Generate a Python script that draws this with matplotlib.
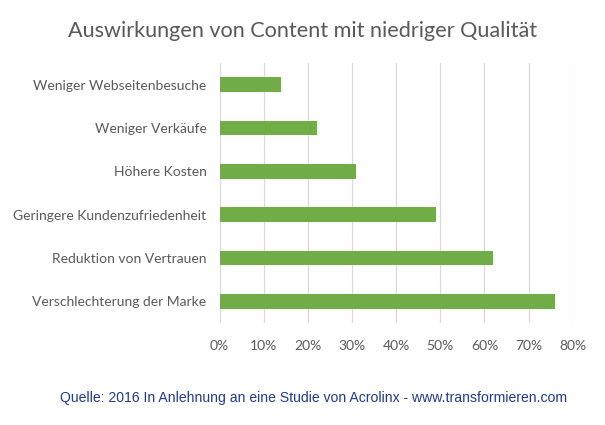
import matplotlib
matplotlib.use("Agg")
import matplotlib.pyplot as plt
from matplotlib.ticker import PercentFormatter

categories = [
    "Verschlechterung der Marke",
    "Reduktion von Vertrauen",
    "Geringere Kundenzufriedenheit",
    "Höhere Kosten",
    "Weniger Verkäufe",
    "Weniger Webseitenbesuche",
]
values = [76, 62, 49, 31, 22, 14]
xticks = [0, 10, 20, 30, 40, 50, 60, 70, 80]

TEXT = "#595959"
GREEN = "#70AD47"

fig = plt.figure(figsize=(6.05, 4.25), dpi=100, facecolor="white")
ax = fig.add_axes([0.3631, 0.24, 0.5835, 0.6118])

ax.barh(range(len(categories)), values, height=0.345, color=GREEN, zorder=3)

ax.set_xlim(0, 80)
ax.set_ylim(-0.5, len(categories) - 0.5)
ax.set_xticks(xticks)
ax.xaxis.set_major_formatter(PercentFormatter(decimals=0))
ax.set_yticks(range(len(categories)))
ax.set_yticklabels(categories)

ax.grid(axis="x", color="#d9d9d9", linewidth=0.9, zorder=0)
for s in ax.spines.values():
    s.set_visible(False)
ax.tick_params(length=0, colors=TEXT, labelsize=10)
ax.tick_params(axis="y", pad=9.5)
ax.tick_params(axis="x", pad=12)
for lbl in ax.get_xticklabels() + ax.get_yticklabels():
    lbl.set_family("Lato")

fig.text(0.5, 0.928, "Auswirkungen von Content mit niedriger Qualität",
         ha="center", va="center", fontsize=15.6, color=TEXT, family="Lato")
fig.text(0.518, 0.0635,
         "Quelle: 2016 In Anlehnung an eine Studie von Acrolinx - www.transformieren.com",
         ha="center", va="center", fontsize=10.1, color="#1F3A93", family="Liberation Sans")

fig.savefig("out.png", dpi=100)
